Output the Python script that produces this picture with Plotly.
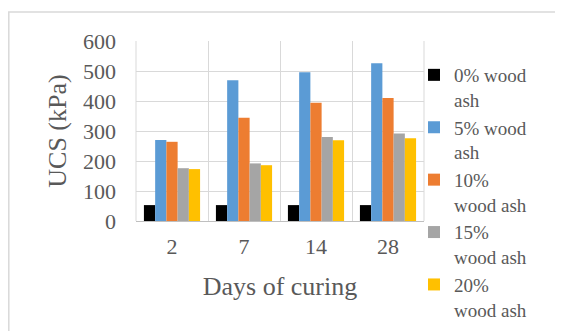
import plotly.graph_objects as go

days = ["2", "7", "14", "28"]
series_names = ["0% wood<br>ash", "5% wood<br>ash", "10%<br>wood ash", "15%<br>wood ash", "20%<br>wood ash"]
ash0 = [53, 53, 53, 53]
ash5 = [270, 469, 496, 526]
ash10 = [264, 344, 394, 410]
ash15 = [176, 192, 280, 292]
ash20 = [173, 186, 269, 276]
colors = ["#000000", "#5B9BD5", "#ED7D31", "#A5A5A5", "#FFC000"]
y_ticks = [0, 100, 200, 300, 400, 500, 600]

# page has an 8px body margin, so work in page coordinates minus 8
OFF = 8
W, H = 563 - OFF, 331 - OFF
L, R, T, B = 136 - OFF, 424 - OFF, 41 - OFF, 221 - OFF

fig = go.Figure()
for name, vals, c in zip(series_names, [ash0, ash5, ash10, ash15, ash20], colors):
    fig.add_trace(go.Bar(x=days, y=vals, name=name, marker=dict(color=c, line=dict(width=0))))

pw, ph = R - L, B - T
def px(x):  # page x -> paper
    return (x - OFF - L) / pw
def py(y):  # page y -> paper
    return (B - (y - OFF)) / ph

font_family = "Liberation Serif, serif"
txt = "#595959"

fig.update_layout(
    width=W, height=H,
    margin=dict(l=L, r=W - R, t=T, b=H - B, pad=0, autoexpand=False),
    paper_bgcolor="white", plot_bgcolor="white",
    barmode="group", bargap=0.22, bargroupgap=0,
    font=dict(family=font_family, color=txt, size=22),
    showlegend=True,
    legend=dict(x=px(414), y=py(56), xanchor="left", yanchor="top",
                font=dict(size=19, family=font_family, color=txt),
                valign="top", itemwidth=30, tracegroupgap=0, maxheight=331,
                bgcolor="rgba(0,0,0,0)"),
    xaxis=dict(type="category", tickson="boundaries", showgrid=True, gridcolor="#d9d9d9", gridwidth=1,
               showline=True, linecolor="#bfbfbf", linewidth=1, ticks="", mirror=False, automargin=False,
               ticklabelstandoff=6,
               tickfont=dict(size=22, family=font_family, color=txt),
               title=dict(text="Days of curing", font=dict(size=26, family=font_family, color=txt), standoff=18),
               range=[-0.5, 3.5]),
    yaxis=dict(range=[0, 600], tickvals=y_ticks, showgrid=True, gridcolor="#d9d9d9", gridwidth=1,
               zeroline=False, showline=False, ticks="", automargin=False,
               ticklabelstandoff=19,
               tickfont=dict(size=22, family=font_family, color=txt),
               title=dict(text="UCS (kPa)", font=dict(size=26, family=font_family, color=txt), standoff=8)),
    shapes=[
        dict(type="rect", xref="paper", yref="paper", x0=px(8.8), x1=px(600), y0=py(400), y1=py(12),
             line=dict(color="#d9d9d9", width=1.5), layer="below"),
        dict(type="line", xref="paper", yref="paper", x0=0, x1=0, y0=0, y1=1,
             line=dict(color="#d9d9d9", width=1)),
        dict(type="line", xref="paper", yref="paper", x0=1, x1=1, y0=0, y1=1,
             line=dict(color="#d9d9d9", width=1)),
    ],
)

fig.write_html("out.html")
